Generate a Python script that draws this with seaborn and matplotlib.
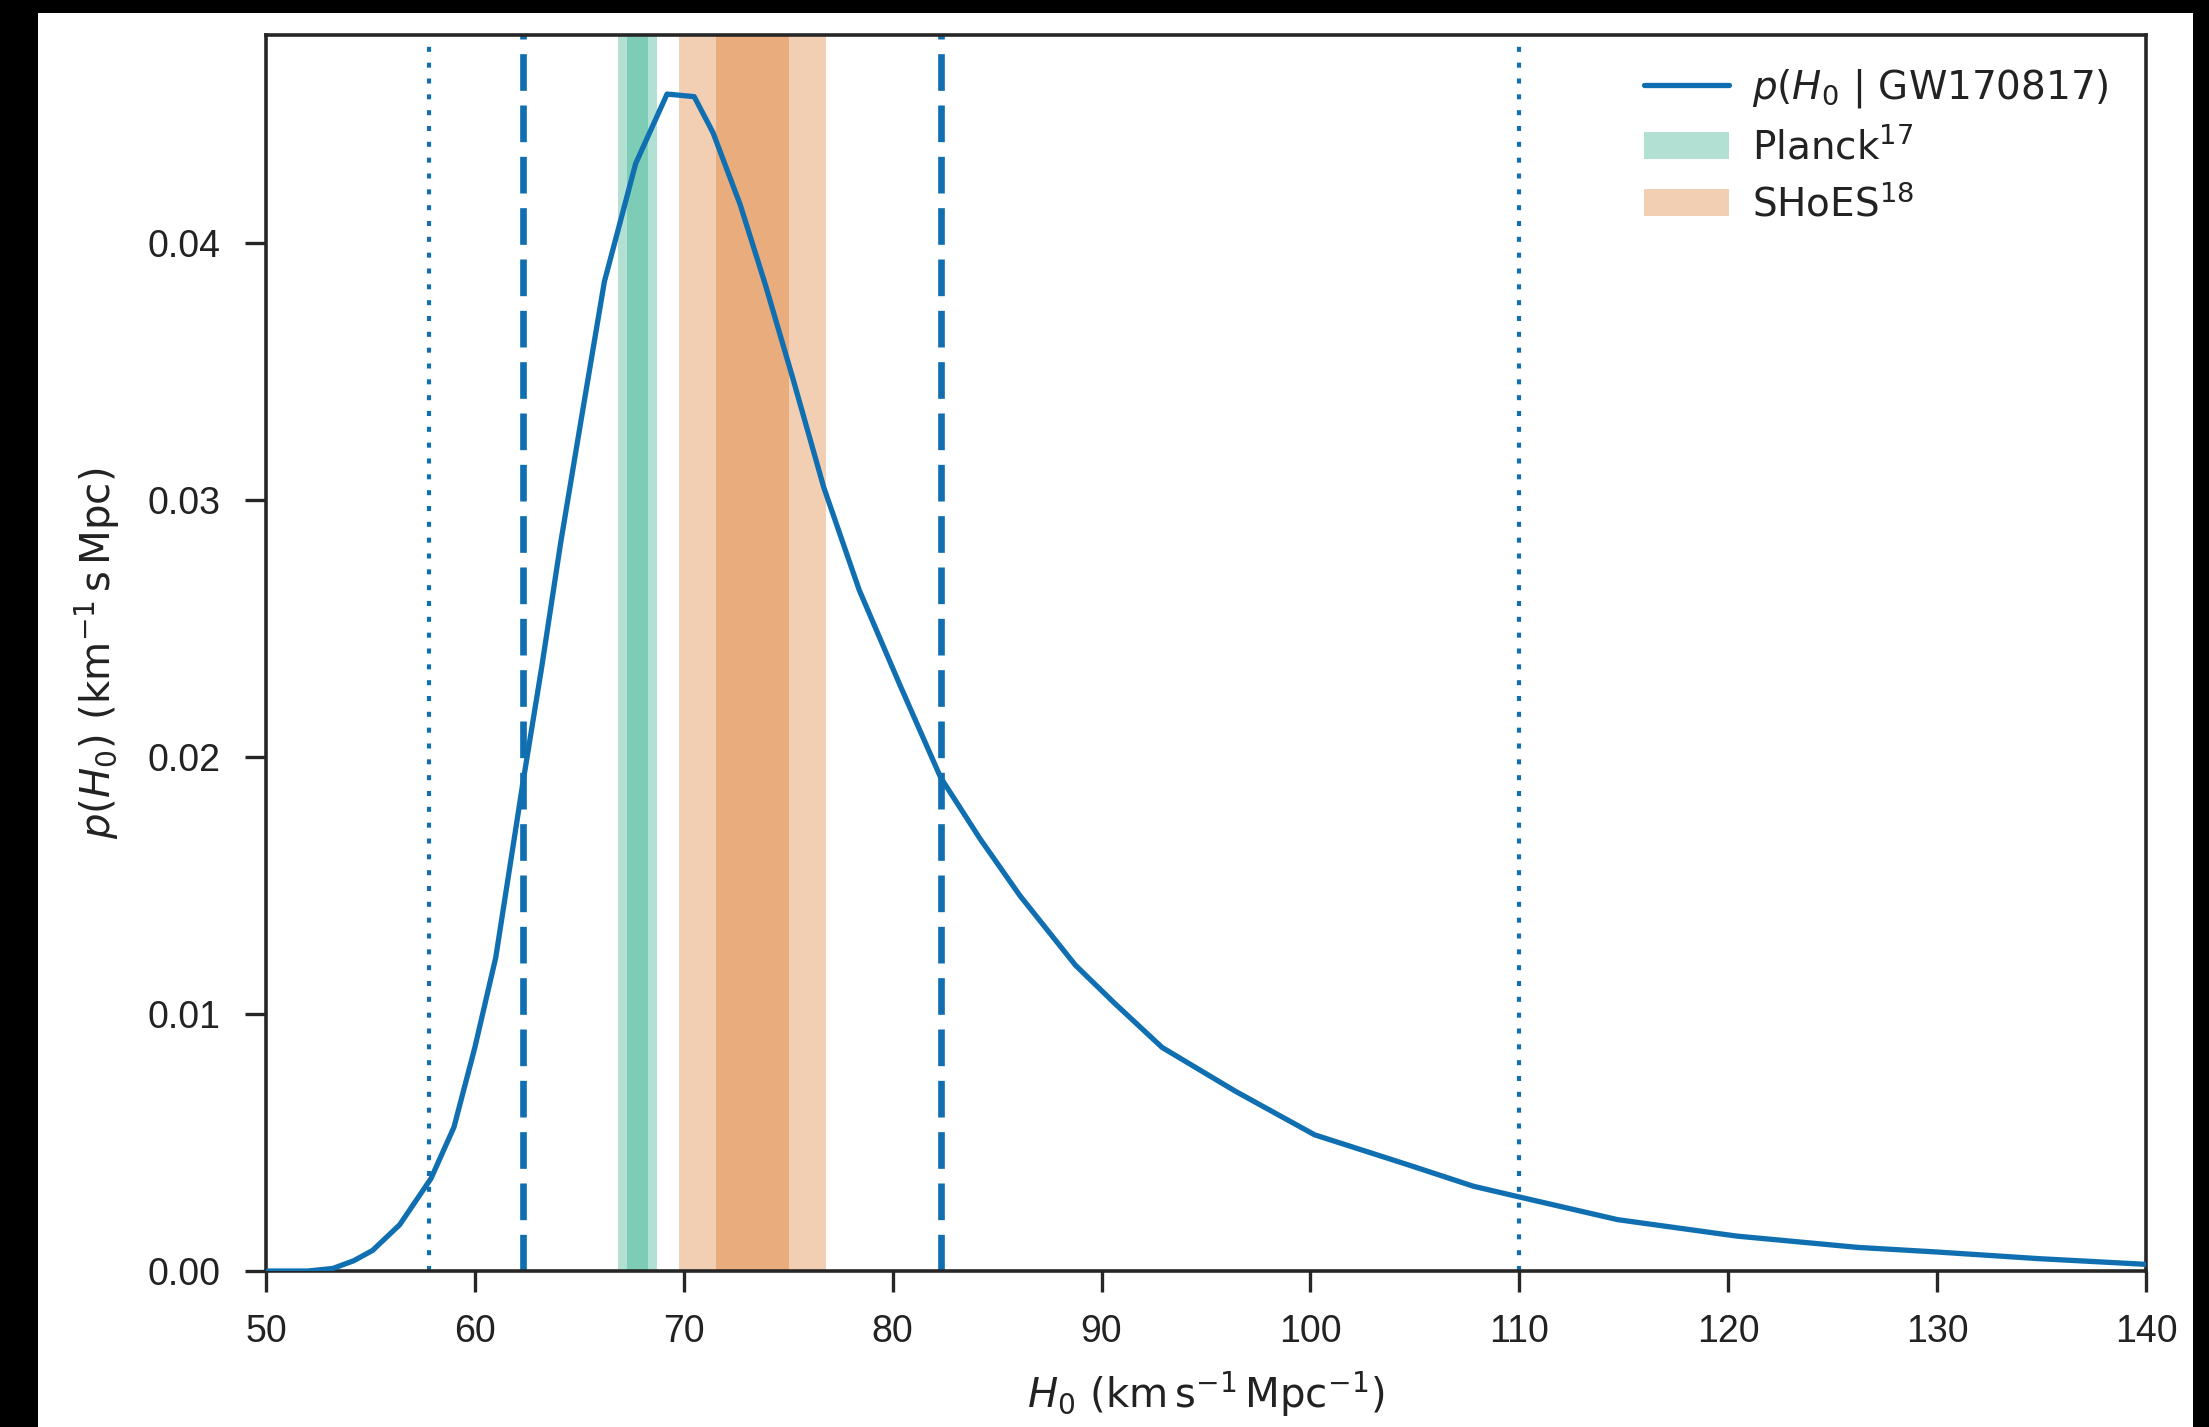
import matplotlib
matplotlib.use("Agg")
import matplotlib.pyplot as plt
from matplotlib.patches import Rectangle, Patch
from matplotlib.lines import Line2D
import seaborn as sns
import pandas as pd

# posterior p(H0 | GW170817)
h0 = [50, 52, 53.2, 54.2, 55.1, 56.4, 57.9, 59.0, 60.0, 61.0, 62.3, 63.2,
      64.1, 65.0, 66.2, 67.7, 69.2, 70.5, 71.4, 72.7, 73.9, 75.2, 76.7,
      78.4, 80.35, 82.3, 84.2, 86.1, 88.75, 90.65, 92.9, 96.4, 100.2,
      104.8, 107.8, 109.9, 114.7, 120.4, 126.2, 130.0, 134.9, 140]
p_h0 = [0.0, 0.0, 0.0001, 0.0004, 0.0008, 0.0018, 0.0036, 0.0056, 0.0087,
        0.0122, 0.0190, 0.0235, 0.0283, 0.0327, 0.0385, 0.0431, 0.0458,
        0.0457, 0.0443, 0.0415, 0.0384, 0.0348, 0.0305, 0.0265, 0.0228,
        0.0192, 0.0168, 0.0146, 0.0119, 0.0104, 0.0087, 0.0070, 0.0053,
        0.0041, 0.0033, 0.0029, 0.0020, 0.00136, 0.00092, 0.00074,
        0.00048, 0.00026]

# credible interval bounds
ci68 = [62.3, 82.3]
ci95 = [57.8, 110.0]

# Planck and SHoES bands (1 and 2 sigma)
planck_1s = [67.3, 68.3]
planck_2s = [66.85, 68.7]
shoes_1s = [71.55, 75.05]
shoes_2s = [69.77, 76.8]

blue = "#0f6fb0"
green = "#009E73"
orange = "#D55E00"

sns.set_style("ticks")
plt.rcParams["font.family"] = ["Liberation Sans", "DejaVu Sans"]
plt.rcParams["mathtext.fontset"] = "dejavusans"

fig = plt.figure(figsize=(11.045, 7.135), dpi=200, facecolor="black")
# scanned page border
fig.patches.append(Rectangle((38 / 2209, 0), (2193 - 38) / 2209, 1 - 13 / 1427,
                             transform=fig.transFigure, facecolor="white",
                             edgecolor="none", zorder=-10))
ax = fig.add_axes([0.1204, 0.1093, 0.8511, 0.8662])

for lo, hi in [planck_2s, planck_1s]:
    ax.axvspan(lo, hi, color=green, alpha=0.3, lw=0)
for lo, hi in [shoes_2s, shoes_1s]:
    ax.axvspan(lo, hi, color=orange, alpha=0.3, lw=0)

df = pd.DataFrame({"H0": h0, "p": p_h0})
sns.lineplot(data=df, x="H0", y="p", color=blue, lw=1.9, ax=ax, zorder=5)

for v in ci68:
    ax.axvline(v, color=blue, lw=2.4, dashes=(5.5, 2.2))
for v in ci95:
    ax.axvline(v, color=blue, lw=1.5, dashes=(1.2, 2.6))

ax.set_xlim(50, 140)
ax.set_ylim(0, 0.0481)
ax.set_yticks([0, 0.01, 0.02, 0.03, 0.04])
ax.set_xticks(range(50, 141, 10))
ax.tick_params(labelsize=13.5, length=7.5, width=1.2, labelcolor="#222222")
ax.tick_params(axis="x", pad=8)
ax.tick_params(axis="y", pad=9)
for s in ax.spines.values():
    s.set_linewidth(1.3)

ax.set_xlabel(r"$H_0\ (\mathrm{km\,s^{-1}\,Mpc^{-1}})$", fontsize=14.5,
              labelpad=7, color="#222222")
ax.set_ylabel(r"$p(H_0)\ (\mathrm{km^{-1}\,s\,Mpc})$", fontsize=14.5,
              labelpad=9, color="#222222")

handles = [
    Line2D([], [], color=blue, lw=1.9),
    Patch(facecolor=green, alpha=0.3, lw=0),
    Patch(facecolor=orange, alpha=0.3, lw=0),
]
labels = [r"$p(H_0\ |\ \mathrm{GW170817})$", r"$\mathrm{Planck}^{17}$",
          r"$\mathrm{SHoES}^{18}$"]
ax.legend(handles, labels, loc="upper right", frameon=False, fontsize=14,
          handlelength=2.2, handletextpad=0.6, labelspacing=0.45,
          labelcolor="#222222", bbox_to_anchor=(0.999, 1.002))

fig.savefig("out.png", dpi=200)
